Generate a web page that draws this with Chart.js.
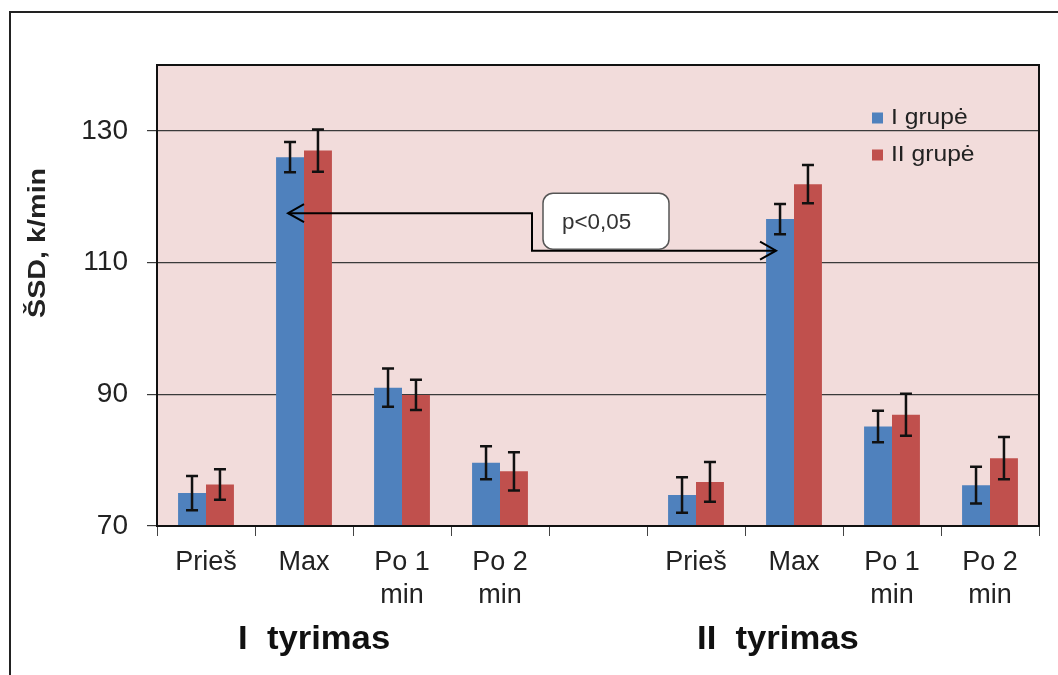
<!DOCTYPE html>
<html>
<head>
<meta charset="utf-8">
<script src="https://cdn.jsdelivr.net/npm/chart.js@4.4.0/dist/chart.umd.min.js"></script>
<style>
  body { margin: 0; background: #fff; }
  #wrap { width: 1058px; height: 675px; }
</style>
</head>
<body>
<div id="wrap"><canvas id="c" width="1058" height="675"></canvas></div>
<script>
// data
const labels = [["Prieš"], ["Max"], ["Po 1", "min"], ["Po 2", "min"], [""], ["Prieš"], ["Max"], ["Po 1", "min"], ["Po 2", "min"]];
const seriesNames = ["I grupė", "II grupė"];
const group1 = [75.0, 126.0, 91.0, 79.6, null, 74.7, 116.6, 85.1, 76.2];
const group2 = [76.3, 127.0, 89.9, 78.3, null, 76.7, 121.9, 86.9, 80.3];
const err1 = [2.6, 2.3, 2.9, 2.5, null, 2.7, 2.3, 2.4, 2.8];
const err2 = [2.3, 3.2, 2.3, 2.9, null, 3.0, 2.9, 3.2, 3.2];
const yTicks = [70, 90, 110, 130];
const studyNames = ["I  tyrimas", "II  tyrimas"];
const pText = "p<0,05";
const yTitle = "ŠSD, k/min";

const FONT = "'Liberation Sans', Arial, sans-serif";
const colors = ["#4F81BD", "#C0504D"];

function stretchText(ctx, txt, x, y, font, sx, align) {
  ctx.save();
  ctx.font = font;
  ctx.textAlign = align || "left";
  ctx.translate(x, y);
  ctx.scale(sx, 1);
  ctx.fillText(txt, 0, 0);
  ctx.restore();
}

function arrowHead(ctx, x, y, dir) {
  ctx.beginPath();
  ctx.moveTo(x + dir * 16, y - 9);
  ctx.lineTo(x, y);
  ctx.lineTo(x + dir * 16, y + 9);
  ctx.stroke();
}

const decor = {
  id: "decor",
  beforeDraw(chart) {
    const { ctx, chartArea: a } = chart;
    ctx.save();
    ctx.fillStyle = "#fff";
    ctx.fillRect(0, 0, chart.width, chart.height);
    ctx.strokeStyle = "#222";
    ctx.lineWidth = 2;
    ctx.beginPath();
    ctx.moveTo(10, 675);
    ctx.lineTo(10, 12);
    ctx.lineTo(1058, 12);
    ctx.stroke();
    ctx.fillStyle = "#F2DCDB";
    ctx.fillRect(a.left, a.top, a.right - a.left, a.bottom - a.top);
    ctx.restore();
  },
  afterDatasetsDraw(chart) {
    const { ctx, chartArea: a } = chart;
    const xs = chart.scales.x, ys = chart.scales.y;
    ctx.save();

    // error bars
    ctx.strokeStyle = "#111";
    ctx.lineWidth = 2.5;
    [err1, err2].forEach((errs, di) => {
      const meta = chart.getDatasetMeta(di);
      const vals = chart.data.datasets[di].data;
      meta.data.forEach((el, j) => {
        if (vals[j] == null || errs[j] == null) return;
        const yt = ys.getPixelForValue(vals[j] + errs[j]);
        const yb = ys.getPixelForValue(vals[j] - errs[j]);
        ctx.beginPath();
        ctx.moveTo(el.x, yt); ctx.lineTo(el.x, yb);
        ctx.moveTo(el.x - 6, yt); ctx.lineTo(el.x + 6, yt);
        ctx.moveTo(el.x - 6, yb); ctx.lineTo(el.x + 6, yb);
        ctx.stroke();
      });
    });

    // plot frame
    ctx.lineWidth = 2;
    ctx.strokeStyle = "#111";
    ctx.strokeRect(a.left, a.top, a.right - a.left, a.bottom - a.top);

    // significance arrow between the two "Max" blue bars
    const m0 = chart.getDatasetMeta(0);
    const xL = m0.data[1].x - 2, yL = ys.getPixelForValue(117.5);
    const xR = m0.data[6].x - 4, yR = ys.getPixelForValue(111.8);
    const xMid = xs.getPixelForValue(4) - 66;
    ctx.lineWidth = 2;
    ctx.strokeStyle = "#000";
    ctx.beginPath();
    ctx.moveTo(xL, yL); ctx.lineTo(xMid, yL); ctx.lineTo(xMid, yR); ctx.lineTo(xR, yR);
    ctx.stroke();
    arrowHead(ctx, xL, yL, 1);
    arrowHead(ctx, xR, yR, -1);

    // p-value box
    const bx = xMid + 11, by = yL - 20, bw = 126, bh = 56;
    ctx.beginPath();
    ctx.roundRect(bx, by, bw, bh, 10);
    ctx.fillStyle = "#fff";
    ctx.fill();
    ctx.lineWidth = 1.5;
    ctx.strokeStyle = "#555";
    ctx.stroke();
    ctx.fillStyle = "#333";
    ctx.textBaseline = "middle";
    stretchText(ctx, pText, bx + 19, by + 30, "22px " + FONT, 1.02, "left");

    // legend
    ctx.textBaseline = "middle";
    seriesNames.forEach((n, i) => {
      const ly = 118 + i * 37;
      ctx.fillStyle = colors[i];
      ctx.fillRect(872, ly - 5.5, 11, 11);
      ctx.fillStyle = "#222";
      stretchText(ctx, n, 891, ly, "22px " + FONT, 1.12, "left");
    });

    // y axis title
    ctx.save();
    ctx.translate(39, 318);
    ctx.rotate(-Math.PI / 2);
    ctx.scale(1.25, 1);
    ctx.fillStyle = "#222";
    ctx.textBaseline = "middle";
    ctx.textAlign = "left";
    ctx.font = "bold 23px " + FONT;
    ctx.fillText(yTitle, 0, 0);
    ctx.restore();

    // study labels under the categories
    ctx.fillStyle = "#111";
    ctx.textBaseline = "alphabetic";
    stretchText(ctx, studyNames[0], 238, 649, "bold 33px " + FONT, 1.05, "left");
    stretchText(ctx, studyNames[1], 697, 649, "bold 33px " + FONT, 1.05, "left");

    ctx.restore();
  }
};

new Chart(document.getElementById("c"), {
  type: "bar",
  data: {
    labels: labels,
    datasets: [
      { label: seriesNames[0], data: group1, backgroundColor: colors[0], categoryPercentage: 0.57, barPercentage: 1.0 },
      { label: seriesNames[1], data: group2, backgroundColor: colors[1], categoryPercentage: 0.57, barPercentage: 1.0 }
    ]
  },
  options: {
    responsive: false,
    animation: false,
    devicePixelRatio: 1,
    layout: { padding: { left: 0, top: 65, right: 19, bottom: 0 } },
    plugins: { legend: { display: false }, tooltip: { enabled: false } },
    scales: {
      x: {
        grid: { offset: true, drawOnChartArea: false, drawTicks: true, tickLength: 10, color: "#444", lineWidth: 1 },
        border: { display: true, color: "#111", width: 2 },
        ticks: { autoSkip: false, maxRotation: 0, padding: 10, color: "#222", font: { family: FONT, size: 27, lineHeight: 1.22 } },
        afterFit: s => { s.height = 149; }
      },
      y: {
        min: 70, max: 140,
        grid: { color: "#3a3a3a", lineWidth: 1.2, tickLength: 10 },
        border: { display: true, color: "#111", width: 2 },
        ticks: { stepSize: 20, padding: 19, color: "#222", font: { family: FONT, size: 28 } },
        afterBuildTicks: s => { s.ticks = yTicks.map(v => ({ value: v })); },
        afterFit: s => { s.width = 157; }
      }
    }
  },
  plugins: [decor]
});
</script>
</body>
</html>
